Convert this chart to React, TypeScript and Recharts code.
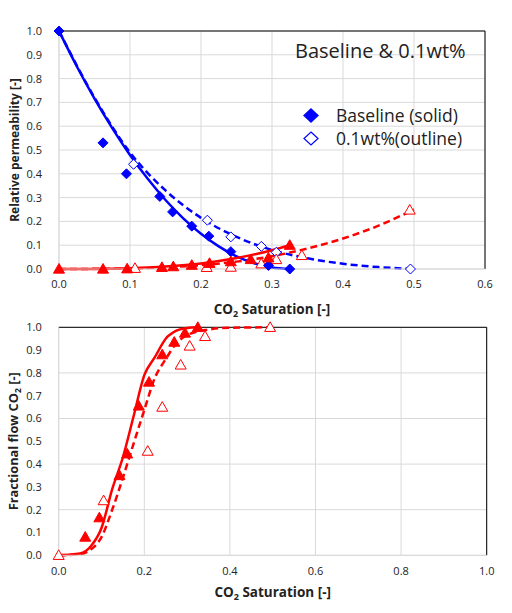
import React from 'react';
import { ComposedChart, XAxis, YAxis, CartesianGrid, Line, Scatter, ReferenceLine, Label } from 'recharts';

const FONT = '"Open Sans", sans-serif';
const BLUE = '#0000ff';
const RED = '#ff0000';
const GRID = '#d9d9d9';

// ---------- Top chart: relative permeability ----------
const topXTicks = [0, 0.1, 0.2, 0.3, 0.4, 0.5, 0.6];
const topYTicks = [0, 0.1, 0.2, 0.3, 0.4, 0.5, 0.6, 0.7, 0.8, 0.9, 1.0];

// Baseline brine kr measured (filled diamonds)
const baseKrwS = [0, 0.062, 0.095, 0.142, 0.16, 0.187, 0.211, 0.242, 0.295, 0.325];
const baseKrwV = [1.0, 0.53, 0.40, 0.305, 0.24, 0.18, 0.138, 0.073, 0.015, 0.0];
// 0.1wt% brine kr measured (open diamonds)
const addKrwS = [0, 0.105, 0.209, 0.242, 0.285, 0.306, 0.495];
const addKrwV = [1.0, 0.44, 0.205, 0.135, 0.095, 0.07, 0.0];
// Baseline CO2 kr measured (filled triangles)
const baseKrgS = [0, 0.062, 0.096, 0.145, 0.161, 0.187, 0.212, 0.242, 0.27, 0.295, 0.325];
const baseKrgV = [0, 0.0, 0.001, 0.007, 0.01, 0.016, 0.024, 0.031, 0.04, 0.047, 0.1];
// 0.1wt% CO2 kr measured (open triangles)
const addKrgS = [0.107, 0.208, 0.242, 0.285, 0.306, 0.342, 0.494];
const addKrgV = [0.003, 0.007, 0.008, 0.022, 0.04, 0.057, 0.248];

// Model curves
const baseKrwCurveS = [0, 0.025, 0.05, 0.075, 0.1, 0.125, 0.15, 0.175, 0.2, 0.225, 0.25, 0.275, 0.3, 0.325];
const baseKrwCurveV = [1.0, 0.852, 0.716, 0.592, 0.479, 0.379, 0.29, 0.213, 0.148, 0.095, 0.053, 0.024, 0.006, 0.0];
const addKrwCurveS = [0, 0.05, 0.1, 0.15, 0.2, 0.25, 0.3, 0.35, 0.4, 0.45, 0.5];
const addKrwCurveV = [1.0, 0.72, 0.49, 0.33, 0.215, 0.135, 0.08, 0.045, 0.022, 0.008, 0.0];
const baseKrgCurveS = [0, 0.05, 0.1, 0.15, 0.2, 0.25, 0.3, 0.325];
const baseKrgCurveV = [0, 0.0004, 0.003, 0.01, 0.023, 0.046, 0.079, 0.1];
const addKrgCurveS = [0, 0.1, 0.15, 0.2, 0.25, 0.3, 0.35, 0.4, 0.45, 0.5];
const addKrgCurveV = [0, 0.002, 0.007, 0.016, 0.031, 0.054, 0.086, 0.128, 0.182, 0.25];

// ---------- Bottom chart: fractional flow ----------
const botXTicks = [0, 0.2, 0.4, 0.6, 0.8, 1.0];
const botYTicks = [0, 0.1, 0.2, 0.3, 0.4, 0.5, 0.6, 0.7, 0.8, 0.9, 1.0];

const baseFwS = [0.062, 0.095, 0.142, 0.16, 0.187, 0.211, 0.242, 0.27, 0.295, 0.325];
const baseFwV = [0.08, 0.165, 0.35, 0.445, 0.655, 0.76, 0.88, 0.935, 0.975, 1.0];
const addFwS = [0, 0.105, 0.208, 0.242, 0.285, 0.306, 0.342, 0.494];
const addFwV = [0, 0.24, 0.457, 0.65, 0.835, 0.918, 0.96, 1.0];

const baseFwCurveS = [0, 0.05, 0.075, 0.1, 0.125, 0.15, 0.175, 0.2, 0.225, 0.25, 0.275, 0.3, 0.325];
const baseFwCurveV = [0, 0.008, 0.04, 0.12, 0.29, 0.43, 0.61, 0.79, 0.87, 0.95, 0.985, 0.997, 1.0];
const addFwCurveS = [0, 0.05, 0.075, 0.1, 0.125, 0.15, 0.175, 0.2, 0.225, 0.25, 0.275, 0.3, 0.35, 0.4, 0.5];
const addFwCurveV = [0, 0.005, 0.025, 0.08, 0.2, 0.34, 0.49, 0.637, 0.78, 0.86, 0.93, 0.965, 0.99, 0.998, 1.0];

const zip = (xs: number[], ys: number[]) => xs.map((x, i) => ({ x, y: ys[i] }));

const Diamond = (fill: string, stroke: string, r: number) => (props: any) => {
  const { cx, cy } = props;
  if (cx == null || cy == null) return null;
  return (
    <polygon
      points={`${cx},${cy - r} ${cx + r},${cy} ${cx},${cy + r} ${cx - r},${cy}`}
      fill={fill}
      stroke={stroke}
      strokeWidth={1}
    />
  );
};

const Triangle = (fill: string, stroke: string, r: number) => (props: any) => {
  const { cx, cy } = props;
  if (cx == null || cy == null) return null;
  return (
    <polygon
      points={`${cx},${cy - r} ${cx + r},${cy + r * 0.75} ${cx - r},${cy + r * 0.75}`}
      fill={fill}
      stroke={stroke}
      strokeWidth={1}
    />
  );
};

const tickStyle = { fontFamily: FONT, fontSize: 11, fill: '#222' };

const XTitle = (dy: number) => (props: any) => {
  const vb = props.viewBox || {};
  const cx = vb.x + vb.width / 2;
  return (
    <text x={cx} y={vb.y + dy} textAnchor="middle" fontFamily={FONT} fontSize={13.5} fontWeight="bold" fill="#222">
      <tspan>CO</tspan>
      <tspan fontSize={9} dy={3}>2</tspan>
      <tspan dy={-3}> Saturation [-]</tspan>
    </text>
  );
};

const YTitle = (kind: 'kr' | 'fw') => (props: any) => {
  const vb = props.viewBox || {};
  const cy = vb.y + vb.height / 2;
  const x = 18.5;
  return (
    <text x={x} y={cy} textAnchor="middle" transform={`rotate(-90, ${x}, ${cy})`} fontFamily={FONT} fontSize={kind === 'kr' ? 12 : 12.8} fontWeight="bold" fill="#222">
      {kind === 'kr' ? (
        <tspan>Relative permeability [-]</tspan>
      ) : (
        <>
          <tspan>Fractional flow CO</tspan>
          <tspan fontSize={8.5} dy={3}>2</tspan>
          <tspan dy={-3}> [-]</tspan>
        </>
      )}
    </text>
  );
};

const fmt = (v: number) => v.toFixed(1);

export default function App() {
  return (
    <div style={{ position: 'absolute', left: 0, top: 0, width: 512, height: 613, background: '#fff' }}>
      <div style={{ position: 'absolute', left: 0, top: 0 }}>
        <ComposedChart width={512} height={320} margin={{ top: 31, right: 27, left: 0, bottom: 0 }}>
          <CartesianGrid stroke={GRID} strokeWidth={1} />
          <XAxis
            type="number"
            dataKey="x"
            domain={[0, 0.6]}
            ticks={topXTicks}
            tickFormatter={fmt}
            height={51}
            axisLine={{ stroke: GRID }}
            tickLine={false}
            tickSize={0}
            tickMargin={11}
            tick={tickStyle}
          >
            <Label content={XTitle(45)} />
          </XAxis>
          <YAxis
            type="number"
            dataKey="y"
            domain={[0, 1]}
            ticks={topYTicks}
            tickFormatter={fmt}
            width={59}
            axisLine={{ stroke: GRID }}
            tickLine={false}
            tickSize={0}
            tickMargin={17}
            tick={tickStyle}
          >
            <Label content={YTitle('kr')} />
          </YAxis>
          <ReferenceLine y={1} stroke="#000" strokeWidth={1} />
          <ReferenceLine x={0.6} stroke="#000" strokeWidth={1} />

          <Line data={zip(addKrwCurveS, addKrwCurveV)} dataKey="y" type="monotone" stroke={BLUE} strokeWidth={2.5} strokeDasharray="7 4" dot={false} isAnimationActive={false} />
          <Line data={zip(addKrgCurveS, addKrgCurveV)} dataKey="y" type="monotone" stroke={RED} strokeWidth={2.5} strokeDasharray="7 4" dot={false} isAnimationActive={false} />

          <Scatter data={zip(addKrwS, addKrwV)} shape={Diamond('#fff', BLUE, 5)} isAnimationActive={false} />
          <Scatter data={zip(addKrgS, addKrgV)} shape={Triangle('#fff', RED, 5.5)} isAnimationActive={false} />

          <Line data={zip(baseKrwCurveS, baseKrwCurveV)} dataKey="y" type="monotone" stroke={BLUE} strokeWidth={2.5} dot={false} isAnimationActive={false} />
          <Line data={zip(baseKrgCurveS, baseKrgCurveV)} dataKey="y" type="monotone" stroke={RED} strokeWidth={2.5} dot={false} isAnimationActive={false} />

          <Scatter data={zip(baseKrwS, baseKrwV)} shape={Diamond(BLUE, BLUE, 5)} isAnimationActive={false} />
          <Scatter data={zip(baseKrgS, baseKrgV)} shape={Triangle(RED, RED, 5.5)} isAnimationActive={false} />
        </ComposedChart>
      </div>

      <div style={{ position: 'absolute', left: 295, top: 38, fontFamily: FONT, fontSize: 20, color: '#222', whiteSpace: 'nowrap', lineHeight: '26px' }}>
        Baseline &amp; 0.1wt%
      </div>
      <div style={{ position: 'absolute', left: 300, top: 104, fontFamily: FONT, fontSize: 17.5, color: '#222', whiteSpace: 'nowrap', lineHeight: '23px' }}>
        <div style={{ display: 'flex', alignItems: 'center' }}>
          <svg width={22} height={23} style={{ marginRight: 14 }}>
            <polygon points="11,4 19,11.5 11,19 3,11.5" fill={BLUE} />
          </svg>
          <span>Baseline (solid)</span>
        </div>
        <div style={{ display: 'flex', alignItems: 'center' }}>
          <svg width={22} height={23} style={{ marginRight: 14 }}>
            <polygon points="11,5 18,11.5 11,18 4,11.5" fill="#fff" stroke={BLUE} strokeWidth={1.2} />
          </svg>
          <span>0.1wt%(outline)</span>
        </div>
      </div>

      <div style={{ position: 'absolute', left: 0, top: 320 }}>
        <ComposedChart width={512} height={293} margin={{ top: 7.3, right: 25.3, left: 0, bottom: 0 }}>
          <CartesianGrid stroke={GRID} strokeWidth={1} />
          <XAxis
            type="number"
            dataKey="x"
            domain={[0, 1]}
            ticks={botXTicks}
            tickFormatter={fmt}
            height={57.7}
            axisLine={{ stroke: GRID }}
            tickLine={false}
            tickSize={0}
            tickMargin={12}
            tick={tickStyle}
          >
            <Label content={XTitle(42)} />
          </XAxis>
          <YAxis
            type="number"
            dataKey="y"
            domain={[0, 1]}
            ticks={botYTicks}
            tickFormatter={fmt}
            width={58.7}
            axisLine={{ stroke: GRID }}
            tickLine={false}
            tickSize={0}
            tickMargin={17}
            tick={tickStyle}
          >
            <Label content={YTitle('fw')} />
          </YAxis>
          <ReferenceLine y={1} stroke="#000" strokeWidth={1} />
          <ReferenceLine x={1} stroke="#000" strokeWidth={1} />

          <Line data={zip(addFwCurveS, addFwCurveV)} dataKey="y" type="monotone" stroke={RED} strokeWidth={2.5} strokeDasharray="7 4" dot={false} isAnimationActive={false} />
          <Scatter data={zip(addFwS, addFwV)} shape={Triangle('#fff', RED, 5.5)} isAnimationActive={false} />
          <Line data={zip(baseFwCurveS, baseFwCurveV)} dataKey="y" type="monotone" stroke={RED} strokeWidth={2.5} dot={false} isAnimationActive={false} />
          <Scatter data={zip(baseFwS, baseFwV)} shape={Triangle(RED, RED, 5.5)} isAnimationActive={false} />
        </ComposedChart>
      </div>
    </div>
  );
}
